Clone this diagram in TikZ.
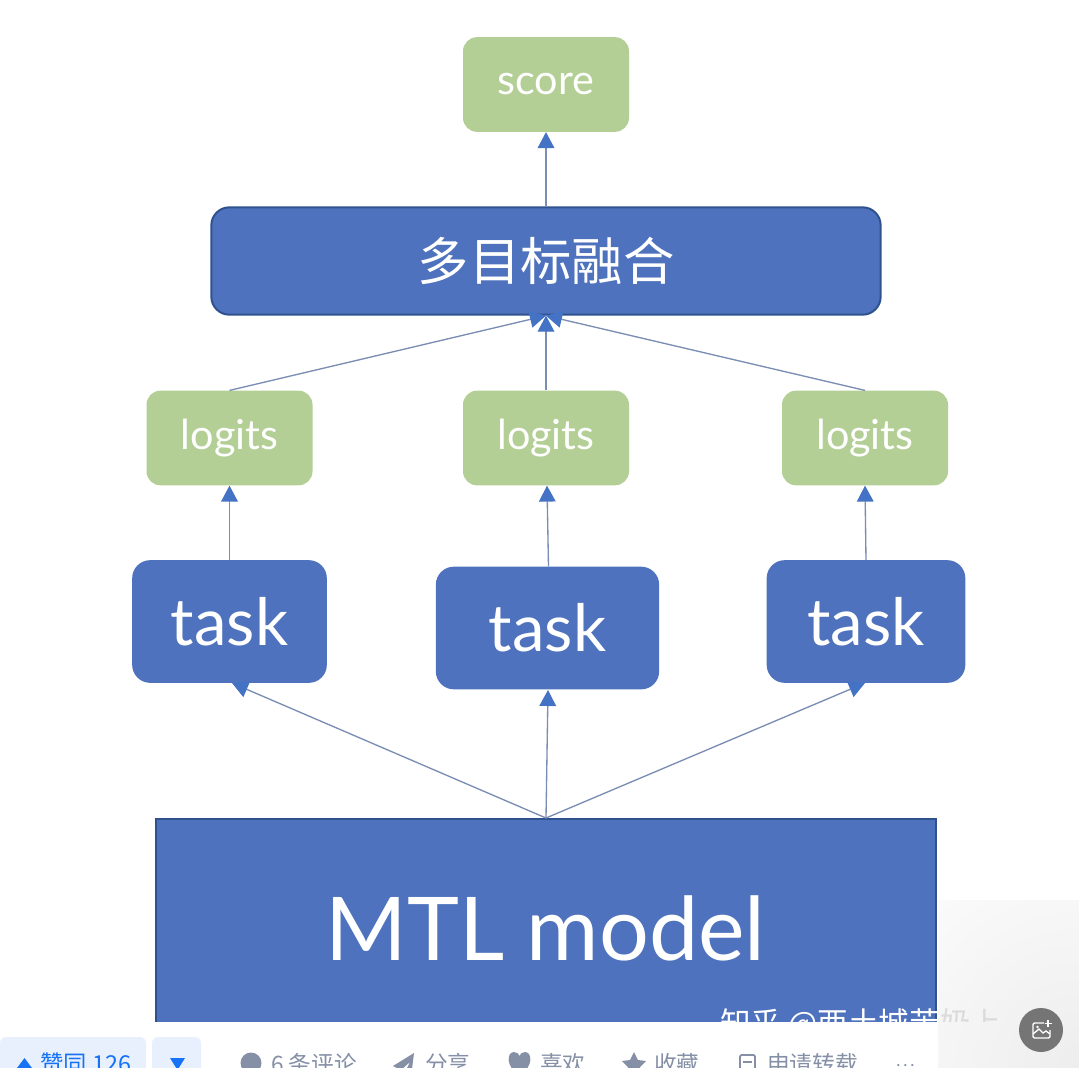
\documentclass[tikz,border=0pt]{standalone}
\usepackage{fontspec}
\setmainfont{Lato}
\newfontfamily\cjk{Noto Sans CJK SC}
\usetikzlibrary{arrows.meta}
\definecolor{boxblue}{HTML}{4E72BD}
\definecolor{edgeblue}{HTML}{2F528F}
\definecolor{linkblue}{HTML}{7A8DB3}
\definecolor{headblue}{HTML}{4472C4}
\definecolor{leaf}{HTML}{B3CF95}
\definecolor{btn}{HTML}{E8F0FE}
\definecolor{zhblue}{HTML}{1772F6}
\definecolor{zhgray}{HTML}{8590A6}
\tikzset{
  x=0.75pt,y=-0.75pt,
  greenbox/.style={draw=none,fill=leaf,rounded corners=10.5pt,text=white,inner sep=0pt,font=\fontsize{31}{33}\selectfont},
  taskbox/.style={draw=none,fill=boxblue,rounded corners=13.5pt,text=white,inner sep=0pt,font=\fontsize{49}{51}\selectfont},
  link/.style={draw=linkblue,line width=1pt,-{Triangle[length=12pt,width=12.5pt,color=headblue]}},
  bar/.style={anchor=base west,inner sep=0pt,text=zhgray,font=\cjk\fontsize{17}{18}\selectfont},
}
\begin{document}
\begin{tikzpicture}
\useasboundingbox (0,0) rectangle (1079,1068);
\clip (0,0) rectangle (1079,1068);
\fill[white] (0,0) rectangle (1079,1068);
% nodes
\node[greenbox,minimum width=124.5pt,minimum height=71pt] (score) at (546,84.5) {\raisebox{-7pt}{score}};
\node[draw=edgeblue,line width=1.5pt,fill=boxblue,rounded corners=13.5pt,text=white,inner sep=0pt,minimum width=502pt,minimum height=80.5pt,font=\cjk\fontsize{38.5}{40}\selectfont] (fusion) at (546,261) {多目标融合};
\node[greenbox,minimum width=124.5pt,minimum height=71pt] (l1) at (229.5,438) {\raisebox{-6pt}{logits}};
\node[greenbox,minimum width=124.5pt,minimum height=71pt] (l2) at (546,438) {\raisebox{-6pt}{logits}};
\node[greenbox,minimum width=124.5pt,minimum height=71pt] (l3) at (865,438) {\raisebox{-6pt}{logits}};
\node[taskbox,minimum width=146pt,minimum height=92pt] (t1) at (229.5,621.5) {\raisebox{-2pt}{task}};
\node[taskbox,minimum width=167.5pt,minimum height=92pt] (t2) at (547.5,628) {\raisebox{-2pt}{task}};
\node[taskbox,minimum width=149pt,minimum height=92pt] (t3) at (866,621.5) {\raisebox{-2pt}{task}};
\node[draw=edgeblue,line width=1.5pt,fill=boxblue,inner sep=0pt,minimum width=585pt,minimum height=195pt,anchor=north] (model) at (546,818) {};
\node[text=white,inner sep=0pt,font=\fontsize{66}{68}\selectfont] (modeltext) at (545.5,928) {MTL model};
\node[text=white,anchor=base west,inner sep=0pt,font=\cjk\fontsize{23}{25}\selectfont] (wm) at (720,1034) {知乎 @西土城苦奶上};
% free arrow ends
\coordinate (a1) at (232,683);
\coordinate (a3) at (865,683);
\coordinate (a2) at (548,690);
% connectors
\draw[link] (model.north) -- (a1);
\draw[link] (model.north) -- (a2);
\draw[link] (model.north) -- (a3);
\draw[link] (t1.north) -- (l1.south);
\draw[link] ([xshift=0.75pt]t2.north) -- ([xshift=0.75pt]l2.south);
\draw[link] (t3.north) -- (l3.south);
\draw[link] (l1.north) -- (fusion.south);
\draw[link] (l2.north) -- (fusion.south);
\draw[link] (l3.north) -- (fusion.south);
\draw[link] (fusion.north) -- (score.south);
% toolbar
\fill[white] (0,1021.5) rectangle (1079,1068);
\begin{scope}
\clip (938,900) rectangle (1079,1068);
\shade[inner color=black!7,outer color=white] (1079,1068) circle (300);
\clip (938,980) rectangle (1079,1021.5);
\node[text=black!14,anchor=base west,inner sep=0pt,font=\cjk\fontsize{23}{25}\selectfont] at (720,1034) {知乎 @西土城苦奶上};
\end{scope}
\fill[btn,rounded corners=4.5pt] (0,1037) rectangle (146,1090);
\fill[btn,rounded corners=4.5pt] (152,1037) rectangle (201,1090);
\fill[zhblue] (17,1068) -- (24.5,1058) -- (32,1068) -- cycle;
\node[bar,text=zhblue,font=\cjk\fontsize{17.5}{19}\selectfont] (zan) at (40,1072) {赞同 126};
\fill[zhblue] (170,1058) -- (185,1058) -- (177.5,1070) -- cycle;
\fill[zhgray] (251,1063) circle (10.5);
\node[bar] (pl) at (271,1072) {6 条评论};
\fill[zhgray] (414,1053) -- (393,1066) -- (401,1070) -- (410,1062) -- (405,1072) -- (411,1077) -- cycle;
\node[bar] (fx) at (425,1072) {分享};
\fill[zhgray] (519.5,1076) .. controls (505,1066) and (507,1052) .. (514,1052) .. controls (517,1052) and (519,1054) .. (519.5,1056) .. controls (520,1054) and (522,1052) .. (525,1052) .. controls (532,1052) and (534,1066) .. (519.5,1076) -- cycle;
\node[bar] (xh) at (540,1072) {喜欢};
\fill[zhgray] (634,1052) -- (638,1060) -- (646,1061) -- (640,1067) -- (642,1076) -- (626,1076) -- (628,1067) -- (622,1061) -- (630,1060) -- cycle;
\node[bar] (sc) at (654,1072) {收藏};
\draw[zhgray,line width=1.3pt,rounded corners=1pt] (740,1069) -- (740,1055) -- (755,1055) -- (755,1069);
\draw[zhgray,line width=1.3pt] (743,1062) -- (752,1062) (737,1069) -- (758,1069);
\node[bar] (zz) at (767,1072) {申请转载};
\node[anchor=base west,inner sep=0pt,text=zhgray,font=\fontsize{13}{14}\selectfont] (more) at (896,1066) {.\hspace{2.2pt}.\hspace{2.2pt}.};
% image button
\fill[black!54] (1041,1030) circle (22);
\draw[white,line width=1pt,rounded corners=1pt] (1044,1023) -- (1033,1023) -- (1033,1038) -- (1050,1038) -- (1050,1030);
\draw[white,line width=1pt] (1033,1034) -- (1039,1029) -- (1043,1033) -- (1046,1031) -- (1050,1034);
\draw[white,line width=1pt] (1048,1020) -- (1048,1027) (1044.5,1023.5) -- (1051.5,1023.5);
\fill[white] (1037.5,1027) circle (1.4);
\end{tikzpicture}
\end{document}
